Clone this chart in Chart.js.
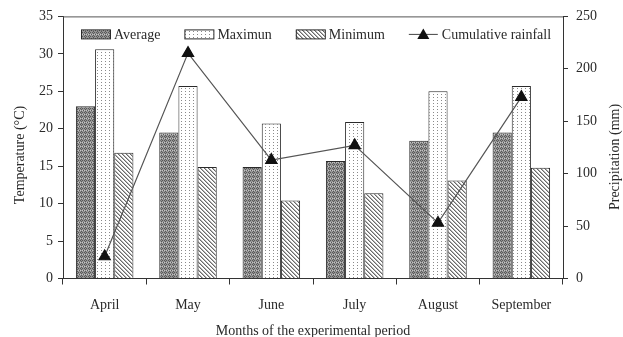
<!DOCTYPE html>
<html>
<head>
<meta charset="utf-8">
<script src="https://cdn.jsdelivr.net/npm/chart.js@4"></script>
<style>
  html, body { margin: 0; padding: 0; background: #fff; }
</style>
</head>
<body>
<canvas id="chart" width="623" height="337"></canvas>
<script>
// data
const months = ["April", "May", "June", "July", "August", "September"];
const avgTemp = [23.0, 19.5, 14.9, 15.7, 18.4, 19.5];
const maxTemp = [30.6, 25.7, 20.7, 20.9, 25.0, 25.7];
const minTemp = [16.8, 14.9, 10.4, 11.4, 13.1, 14.8];
const rainfall = [21, 215, 113, 127, 53, 173];
const tempTicks = [0, 35, 5];   // min, max, step
const rainTicks = [0, 250, 50];

const FONT = "'Liberation Serif', 'DejaVu Serif', serif";
const INK = '#2a2a2a';

function makePattern(w, h, draw) {
  const c = document.createElement('canvas');
  c.width = w; c.height = h;
  const g = c.getContext('2d');
  draw(g);
  return g.createPattern(c, 'repeat');
}

// dark knit texture for the average
const avgFill = makePattern(4, 4, g => {
  g.fillStyle = '#959595'; g.fillRect(0, 0, 4, 4);
  g.fillStyle = '#585858';
  g.fillRect(0, 0, 1, 1); g.fillRect(2, 0, 1, 1);
  g.fillRect(1, 1, 1, 1); g.fillRect(3, 2, 1, 1);
  g.fillRect(1, 3, 1, 1);
  g.fillStyle = '#c4c4c4';
  g.fillRect(2, 2, 1, 1); g.fillRect(0, 2, 1, 1);
});
// white with fine dots for the maximum
const maxFill = makePattern(4, 3, g => {
  g.fillStyle = '#ffffff'; g.fillRect(0, 0, 4, 3);
  g.fillStyle = '#8a8a8a'; g.fillRect(1, 1, 1, 1);
});
// diagonal hatching for the minimum
const minFill = makePattern(4, 4, g => {
  g.fillStyle = '#ffffff'; g.fillRect(0, 0, 4, 4);
  g.fillStyle = '#6a6a6a';
  for (let i = 0; i < 4; i++) g.fillRect(i, i, 1, 1);
  g.fillStyle = '#b5b5b5';
  for (let i = 0; i < 4; i++) g.fillRect((i + 1) % 4, i, 1, 1);
});

// legend inside the plot, top frame line and the axis titles
const decorations = {
  id: 'decorations',
  afterDraw(chart) {
    const ctx = chart.ctx;
    const area = chart.chartArea;
    const y = area.top + 18;
    let x = area.left + 18;
    ctx.save();
    ctx.font = '14px ' + FONT;
    ctx.textBaseline = 'middle';
    chart.data.datasets.forEach(ds => {
      if (ds.type === 'line') {
        ctx.strokeStyle = '#444';
        ctx.lineWidth = 1;
        ctx.beginPath();
        ctx.moveTo(x, y); ctx.lineTo(x + 29, y);
        ctx.stroke();
        ctx.fillStyle = '#111';
        ctx.beginPath();
        ctx.moveTo(x + 14.5, y - 6);
        ctx.lineTo(x + 20.5, y + 4.5);
        ctx.lineTo(x + 8.5, y + 4.5);
        ctx.closePath();
        ctx.fill();
      } else {
        ctx.fillStyle = ds.backgroundColor;
        ctx.fillRect(x, y - 4.5, 29, 9);
        ctx.strokeStyle = INK;
        ctx.lineWidth = 1;
        ctx.strokeRect(x + 0.5, y - 4.5, 29, 9);
      }
      ctx.fillStyle = INK;
      ctx.fillText(ds.label, x + 33, y + 1);
      x += 33 + ctx.measureText(ds.label).width + 24;
    });

    ctx.strokeStyle = '#555';
    ctx.lineWidth = 1;
    ctx.beginPath();
    ctx.moveTo(area.left, area.top + 0.5);
    ctx.lineTo(area.right, area.top + 0.5);
    ctx.stroke();

    ctx.fillStyle = INK;
    ctx.textAlign = 'center';
    ctx.textBaseline = 'alphabetic';
    ctx.fillText('Months of the experimental period', (area.left + area.right) / 2, 335);
    ctx.textBaseline = 'middle';
    [['Temperature (°C)', 20, 155], ['Precipitation (mm)', 615, 157]].forEach(([t, tx, ty]) => {
      ctx.save();
      ctx.translate(tx, ty);
      ctx.rotate(-Math.PI / 2);
      ctx.fillText(t, 0, 0);
      ctx.restore();
    });
    ctx.restore();
  }
};

const axisFont = { family: FONT, size: 14 };

new Chart(document.getElementById('chart'), {
  data: {
    labels: months,
    datasets: [
      { type: 'bar', label: 'Average', data: avgTemp, yAxisID: 'y',
        backgroundColor: avgFill, borderColor: INK, borderWidth: 1, order: 1 },
      { type: 'bar', label: 'Maximun', data: maxTemp, yAxisID: 'y',
        backgroundColor: maxFill, borderColor: INK, borderWidth: 1, order: 1 },
      { type: 'bar', label: 'Minimum', data: minTemp, yAxisID: 'y',
        backgroundColor: minFill, borderColor: INK, borderWidth: 1, order: 1 },
      { type: 'line', label: 'Cumulative rainfall', data: rainfall, yAxisID: 'y1',
        borderColor: '#555', borderWidth: 1.2, pointStyle: 'triangle',
        pointRadius: 6.5, pointBackgroundColor: '#111', pointBorderColor: '#111',
        tension: 0, order: 0 }
    ]
  },
  options: {
    responsive: false,
    animation: false,
    devicePixelRatio: 1,
    layout: { padding: { top: 16, left: 0, right: 0, bottom: 0 } },
    datasets: { bar: { barPercentage: 1, categoryPercentage: 0.69 } },
    plugins: { legend: { display: false }, tooltip: { enabled: false } },
    scales: {
      x: {
        offset: true,
        grid: { display: true, drawOnChartArea: false, drawTicks: true, tickLength: 6,
                color: '#333', offset: true },
        border: { color: '#333', width: 1 },
        ticks: { font: axisFont, color: INK, padding: 12 },
        afterFit: s => { s.height = 58.5; }
      },
      y: {
        position: 'left',
        min: tempTicks[0], max: tempTicks[1],
        ticks: { stepSize: tempTicks[2], font: axisFont, color: INK, padding: 5 },
        grid: { drawOnChartArea: false, tickLength: 5, color: '#333' },
        border: { color: '#333', width: 1 },
        afterFit: s => { s.width = 63; }
      },
      y1: {
        position: 'right',
        min: rainTicks[0], max: rainTicks[1],
        ticks: { stepSize: rainTicks[2], font: axisFont, color: INK, padding: 8 },
        grid: { drawOnChartArea: false, tickLength: 5, color: '#333' },
        border: { color: '#333', width: 1 },
        afterFit: s => { s.width = 60; }
      }
    }
  },
  plugins: [decorations]
});
</script>
</body>
</html>
